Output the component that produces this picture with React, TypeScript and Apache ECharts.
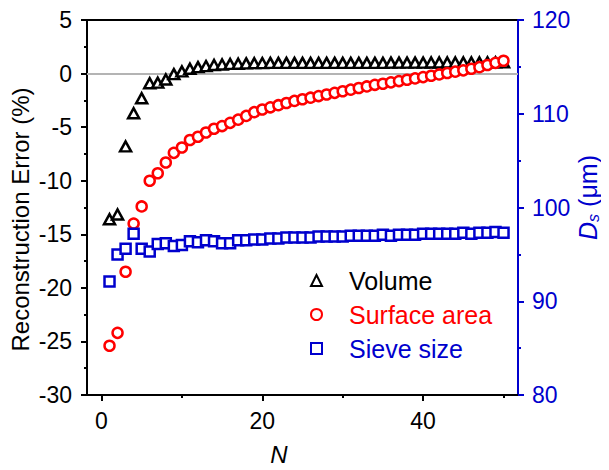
import React, { useEffect, useRef } from "react";
import * as echarts from "echarts";

const nValues: number[] = Array.from({ length: 50 }, (_, i) => i + 1);

const volumeError: number[] = [
  -13.6, -13.15, -6.8, -3.7, -2.3, -0.9, -0.85, -0.55, -0.05, 0.2,
  0.45, 0.6, 0.7, 0.8, 0.85, 0.9, 0.92, 0.95, 0.97, 0.98,
  1.0, 1.0, 1.0, 1.0, 1.0, 1.0, 1.0, 1.0, 1.0, 1.0,
  1.0, 1.0, 1.0, 1.0, 1.0, 1.02, 1.02, 1.02, 1.02, 1.02,
  1.03, 1.03, 1.03, 1.03, 1.04, 1.04, 1.04, 1.05, 1.05, 1.05,
];

const surfaceError: number[] = [
  -25.4, -24.2, -18.5, -14.0, -12.4, -10.0, -9.3, -8.3, -7.4, -6.9,
  -6.2, -5.9, -5.5, -5.15, -4.9, -4.6, -4.3, -3.95, -3.6, -3.35,
  -3.15, -2.95, -2.75, -2.55, -2.4, -2.25, -2.1, -1.95, -1.8, -1.65,
  -1.5, -1.35, -1.2, -1.05, -0.95, -0.82, -0.7, -0.58, -0.45, -0.33,
  -0.2, -0.08, 0.05, 0.18, 0.3, 0.45, 0.6, 0.8, 1.0, 1.2,
];

const sieveSize: number[] = [
  92.1, 95.0, 95.6, 97.2, 95.6, 95.3, 96.1, 96.2, 95.9, 96.0,
  96.4, 96.3, 96.5, 96.4, 96.2, 96.2, 96.5, 96.5, 96.6, 96.6,
  96.7, 96.7, 96.8, 96.8, 96.8, 96.8, 96.9, 96.9, 96.9, 96.9,
  97.0, 97.0, 97.0, 97.0, 97.1, 97.0, 97.1, 97.1, 97.1, 97.2,
  97.2, 97.2, 97.2, 97.2, 97.3, 97.2, 97.3, 97.3, 97.4, 97.3,
];

const xMajorTicks = [0, 20, 40];
const xMinorTicks = [10, 30, 50];
const seriesNames = ["Volume", "Surface area", "Sieve size"];

const FONT = "'Liberation Sans', Arial, sans-serif";
const BLUE = "#0000CD";
const RED = "#FF0000";
const LEGEND_FS = 25;

export default function App() {
  const ref = useRef<HTMLDivElement>(null);
  useEffect(() => {
    if (!ref.current) return;
    const chart = echarts.init(ref.current, null, { renderer: "svg" });
    const pair = (ys: number[]) => nValues.map((n, i) => [n, ys[i]]);
    const legendText = (color: string) => ({
      color,
      fontSize: LEGEND_FS,
      fontFamily: FONT,
      lineHeight: 25,
      padding: [0, 0, 0, 22],
    });
    chart.setOption({
      animation: false,
      backgroundColor: "#fff",
      textStyle: { fontFamily: FONT },
      grid: {
        left: 87,
        right: 91,
        top: 20,
        bottom: 75,
        containLabel: false,
        outerBoundsMode: "none",
        show: true,
        borderColor: "#000",
        borderWidth: 2,
      },
      legend: {
        orient: "vertical",
        left: 305,
        top: 263,
        itemWidth: 11,
        itemHeight: 11,
        itemGap: 9,
        textStyle: legendText("#000"),
        data: [
          { name: seriesNames[0], textStyle: legendText("#000") },
          { name: seriesNames[1], textStyle: legendText(RED) },
          { name: seriesNames[2], textStyle: legendText(BLUE) },
        ],
      },
      xAxis: [
        {
          type: "value",
          min: -1.8,
          max: 51.8,
          position: "bottom",
          name: "N",
          nameLocation: "middle",
          nameGap: 47,
          nameMoveOverlap: false,
          nameTextStyle: { fontSize: 24, fontStyle: "italic", color: "#000", fontFamily: FONT, padding: [0, 47, 0, 0] },
          axisLine: { show: true, onZero: false, lineStyle: { color: "#000", width: 2 } },
          axisTick: { show: true, customValues: xMajorTicks, length: 6, lineStyle: { width: 2 } },
          axisLabel: { customValues: xMajorTicks, fontSize: 23, color: "#000", margin: 14, fontFamily: FONT },
          splitLine: { show: false },
        },
        {
          type: "value",
          min: -1.8,
          max: 51.8,
          position: "bottom",
          axisLine: { show: false, onZero: false },
          axisTick: { show: true, customValues: xMinorTicks, length: 3, lineStyle: { width: 2, color: "#000" } },
          axisLabel: { show: false },
          splitLine: { show: false },
        },
      ],
      yAxis: [
        {
          type: "value",
          min: -30,
          max: 5,
          interval: 5,
          position: "left",
          name: "Reconstruction Error (%)",
          nameLocation: "middle",
          nameRotate: 90,
          nameGap: 55,
          nameMoveOverlap: false,
          nameTextStyle: { fontSize: 24, color: "#000", fontFamily: FONT, padding: [0, 24, 0, 0] },
          axisLine: { show: true, onZero: false, lineStyle: { color: "#000", width: 2 } },
          axisTick: { show: true, length: 6, lineStyle: { width: 2 } },
          minorTick: { show: true, splitNumber: 2, length: 3, lineStyle: { width: 2, color: "#000" } },
          axisLabel: { fontSize: 23, color: "#000", margin: 15, fontFamily: FONT },
          splitLine: { show: false },
        },
        {
          type: "value",
          min: 80,
          max: 120,
          interval: 10,
          position: "right",
          name: "{D|D}{s|s}{n| (μm)}",
          nameLocation: "middle",
          nameRotate: 90,
          nameGap: 56,
          nameMoveOverlap: false,
          nameTextStyle: {
            color: BLUE,
            fontSize: 25,
            fontFamily: FONT,
            padding: [0, 0, 0, 20],
            rich: {
              D: { fontStyle: "italic", fontSize: 25, color: BLUE, fontFamily: FONT },
              s: { fontStyle: "italic", fontSize: 16, color: BLUE, fontFamily: FONT, padding: [11, 0, 0, 0] },
              n: { fontSize: 25, color: BLUE, fontFamily: FONT },
            },
          },
          axisLine: { show: true, onZero: false, lineStyle: { color: BLUE, width: 2 } },
          axisTick: { show: true, length: 6, lineStyle: { width: 2, color: BLUE } },
          minorTick: { show: true, splitNumber: 2, length: 3, lineStyle: { width: 2, color: BLUE } },
          axisLabel: { fontSize: 23, color: BLUE, margin: 14, fontFamily: FONT },
          splitLine: { show: false },
        },
      ],
      series: [
        {
          name: seriesNames[0],
          type: "scatter",
          xAxisIndex: 0,
          yAxisIndex: 0,
          symbol: "triangle",
          symbolSize: [11, 10],
          itemStyle: { color: "#fff", borderColor: "#000", borderWidth: 2.5, opacity: 1 },
          data: pair(volumeError),
          z: 3,
          markLine: {
            silent: true,
            symbol: "none",
            label: { show: false },
            lineStyle: { color: "#b4b4b4", width: 2, type: "solid" },
            data: [{ yAxis: 0 }],
            z: 1,
          },
        },
        {
          name: seriesNames[1],
          type: "scatter",
          xAxisIndex: 0,
          yAxisIndex: 0,
          symbol: "circle",
          symbolSize: 10,
          itemStyle: { color: "#fff", borderColor: RED, borderWidth: 2.5, opacity: 1 },
          data: pair(surfaceError),
          z: 4,
        },
        {
          name: seriesNames[2],
          type: "scatter",
          xAxisIndex: 0,
          yAxisIndex: 1,
          symbol: "rect",
          symbolSize: 10,
          itemStyle: { color: "#fff", borderColor: BLUE, borderWidth: 2.5, opacity: 1 },
          data: pair(sieveSize),
          z: 5,
        },
      ],
    });
    return () => chart.dispose();
  }, []);
  return <div ref={ref} style={{ width: 609, height: 470, marginLeft: -8, marginTop: -8 }} />;
}
